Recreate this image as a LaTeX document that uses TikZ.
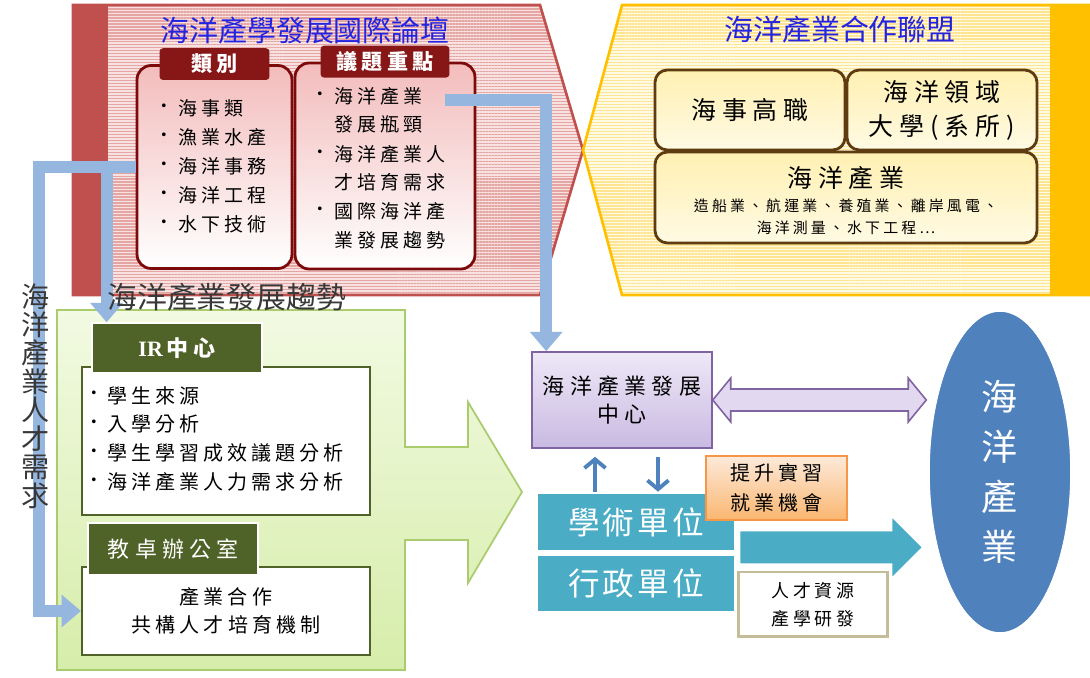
\documentclass[tikz,border=0pt]{standalone}
\usepackage{fontspec}
\setmainfont{Noto Sans CJK TC}
\newfontfamily\romanfont{Liberation Serif}
\usetikzlibrary{positioning,calc,arrows.meta,patterns.meta,shapes.geometric}
\newcommand{\fsz}[2]{\fontsize{#1}{#2}\selectfont}

\definecolor{forumred}{RGB}{192,80,77}
\definecolor{forumpink}{RGB}{247,226,225}
\definecolor{forumstripe}{RGB}{228,165,163}
\definecolor{leaguegold}{RGB}{255,192,0}
\definecolor{leaguecream}{RGB}{255,250,228}
\definecolor{leaguestripe}{RGB}{255,228,145}
\definecolor{titleblue}{RGB}{35,35,225}
\definecolor{boxred}{RGB}{125,10,10}
\definecolor{tabred}{RGB}{135,22,22}
\definecolor{boxpink}{RGB}{243,188,188}
\definecolor{capbrown}{RGB}{95,60,15}
\definecolor{capfill}{RGB}{255,240,178}
\definecolor{capfilllight}{RGB}{255,250,228}
\definecolor{trendgreen}{RGB}{170,204,110}
\definecolor{trendlight}{RGB}{242,250,226}
\definecolor{trenddark}{RGB}{214,237,170}
\definecolor{olivetab}{RGB}{79,98,40}
\definecolor{flowblue}{RGB}{149,182,222}
\definecolor{centrelight}{RGB}{238,232,247}
\definecolor{centredark}{RGB}{201,186,226}
\definecolor{centreline}{RGB}{128,100,162}
\definecolor{centrearrow}{RGB}{226,216,240}
\definecolor{internlight}{RGB}{253,234,218}
\definecolor{interndark}{RGB}{250,182,112}
\definecolor{internline}{RGB}{247,150,70}
\definecolor{unitteal}{RGB}{75,172,198}
\definecolor{resline}{RGB}{196,189,151}
\definecolor{seablue}{RGB}{79,129,189}

\begin{document}
\begin{tikzpicture}[x=0.02cm,y=-0.02cm]
      \useasboundingbox (0,0) rectangle (1090,678);
      \tikzstyle{headline} = [text=titleblue, inner sep=0, font=\fsz{16.5}{18}]
      \tikzstyle{redbox} = [draw=boxred, line width=1.6pt, rounded corners=8pt, top color=boxpink, bottom color=white]
      \tikzstyle{redtab} = [fill=tabred, text=white, rounded corners=2pt, minimum height=0.56cm, font=\fsz{12}{14}\bfseries\addfontfeature{LetterSpace=20}]
      \tikzstyle{listitem} = [anchor=west, inner sep=0, font=\fsz{10.8}{13}\addfontfeature{LetterSpace=21}]
      \tikzstyle{irlist} = [anchor=west, inner sep=0, font=\fsz{11.4}{13}\addfontfeature{LetterSpace=20}]
      \tikzstyle{bulletdot} = [inner sep=0, font=\fsz{10}{12}]
      \tikzstyle{capbox} = [draw=capbrown, line width=1.6pt, rounded corners=7pt, top color=capfill, bottom color=capfilllight, align=center, font=\fsz{14.2}{19.4}\addfontfeature{LetterSpace=24}]
      \tikzstyle{capname} = [inner sep=0, font=\fsz{14.2}{19.4}\addfontfeature{LetterSpace=24}]
      \tikzstyle{capsub} = [inner sep=0, align=center, font=\fsz{8.5}{12.5}\addfontfeature{LetterSpace=21}]
      \tikzstyle{trendtext} = [text=black!78, inner sep=0, font=\fsz{17}{19}]
      \tikzstyle{vtext} = [align=center, inner sep=0, text=black!78, font=\fsz{16}{16.2}]
      \tikzstyle{trendarrow} = [draw=trendgreen, line width=1pt, top color=trendlight, bottom color=trenddark]
      \tikzstyle{oltab} = [fill=olivetab, draw=white, line width=0.8pt, text=white, font=\fsz{12.5}{14}\addfontfeature{LetterSpace=23}]
      \tikzstyle{irbox} = [fill=white, draw=olivetab, line width=1.3pt, align=center, font=\fsz{11.4}{16}\addfontfeature{LetterSpace=20}]
      \tikzstyle{flowline} = [draw=flowblue, line width=6.8pt, -{Triangle[length=11pt,width=18pt]}]
      \tikzstyle{centrebox} = [draw=centreline, line width=0.9pt, top color=centrelight, bottom color=centredark, align=center, font=\fsz{12.5}{16}\addfontfeature{LetterSpace=24}]
      \tikzstyle{linkarrow} = [draw=centreline, line width=0.9pt, fill=centrearrow]
      \tikzstyle{stepline} = [draw=seablue, line width=2.2pt, -{Straight Barb[length=5pt,width=12pt]}]
      \tikzstyle{internbox} = [draw=internline, line width=0.8pt, top color=internlight, bottom color=interndark, align=center, font=\fsz{11.4}{17}\addfontfeature{LetterSpace=20}]
      \tikzstyle{unitbox} = [fill=unitteal, draw=white, line width=1.5pt, text=white, font=\fsz{18}{20}\addfontfeature{LetterSpace=10}]
      \tikzstyle{supplyarrow} = [draw=white, line width=1.2pt, fill=unitteal]
      \tikzstyle{resbox} = [draw=resline, line width=1.7pt, fill=white, align=center, font=\fsz{10.2}{16}\addfontfeature{LetterSpace=20}]
      \tikzstyle{seanode} = [ellipse, fill=seablue, draw=white, line width=2pt, text=white, align=center, font=\fsz{20.5}{28.5}]

      % forum (red chevron)
      \fill[forumpink] (73,5) -- (540,5) -- (583,150) -- (540,295) -- (73,295) -- cycle;
      \fill[pattern={Lines[distance=1.7pt,line width=0.8pt]}, pattern color=forumstripe]
      (108,5) -- (540,5) -- (583,150) -- (540,295) -- (108,295) -- cycle;
      \fill[forumred] (73,5) rectangle (108,295);
      \draw[forumred, line width=1.5pt] (73,5) -- (540,5) -- (583,150) -- (540,295) -- (73,295) -- cycle;

      % league (yellow chevron)
      \fill[leaguecream] (622,5) -- (1090,5) -- (1090,295) -- (622,295) -- (583,150) -- cycle;
      \fill[pattern={Lines[distance=1.7pt,line width=0.8pt]}, pattern color=leaguestripe]
      (622,5) -- (1050,5) -- (1050,295) -- (622,295) -- (583,150) -- cycle;
      \fill[leaguegold] (1050,5) rectangle (1090,295);
      \draw[leaguegold, line width=1.5pt] (1090,5) -- (622,5) -- (583,150) -- (622,295) -- (1090,295);

      \node[headline] (forumtitle) at (305,30) {海洋產學發展國際論壇};
      \node[headline] (leaguetitle) at (840,30) {海洋產業合作聯盟};

      \node[redbox, minimum width=3.1cm, minimum height=4.06cm] (cat) at (214.5,167) {};
      \node[redbox, minimum width=3.6cm, minimum height=4.12cm] (issue) at (385,166) {};
      \node[redtab, minimum width=2.2cm] (cattab) at (cat.north) {類別};
      \node[redtab, minimum width=2.58cm] (issuetab) at (issue.north) {議題重點};

      \foreach \t [count=\i] in {海事類,漁業水產,海洋事務,海洋工程,水下技術}{
        \node[bulletdot] (cb\i) at (164,{79+29*\i}) {•};
        \node[listitem] (c\i) at (178,{79+29*\i}) {\t};
      }
      \foreach \y/\t [count=\i] in {96/海洋產業,124/發展瓶頸,154/海洋產業人,182/才培育需求,211/國際海洋產,240/業發展趨勢}
        \node[listitem] (i\i) at (334,\y) {\t};
      \foreach \y [count=\i] in {96,154,211}
        \node[bulletdot] (ib\i) at (320,\y) {•};

      \node[capbox, minimum width=3.8cm, minimum height=1.6cm] (mhs) at (750,110) {海事高職};
      \node[capbox, minimum width=3.8cm, minimum height=1.6cm] (uni) at (942,110) {海洋領域\\大學(系所)};
      \node[capbox, minimum width=7.64cm, minimum height=1.82cm] (ind) at (846,197.5) {};
      \node[capname] (indname) at (846,178) {海洋產業};
      \node[capsub] (indlist) at (846,217) {造船業、航運業、養殖業、離岸風電、\\海洋測量、水下工程⋯};

      % trend (green arrow)
      \draw[trendarrow] (57,310) -- (405,310) -- (405,447) -- (468,447) -- (468,402) -- (522,492)
      -- (468,583) -- (468,540) -- (405,540) -- (405,670) -- (57,670) -- cycle;

      \node[irbox, minimum width=5.76cm, minimum height=2.96cm] (irbox) at (226,441) {};
      \node[oltab, minimum width=3.4cm, minimum height=1cm] (irtab) at (177,348) {{\romanfont\bfseries IR}\,\bfseries 中心};
      \foreach \t [count=\i] in {學生來源,入學分析,學生學習成效議題分析,海洋產業人力需求分析}{
        \node[bulletdot] (rb\i) at (94,{367+28.7*\i}) {•};
        \node[irlist] (r\i) at (107,{367+28.7*\i}) {\t};
      }
      \node[irbox, minimum width=5.76cm, minimum height=1.76cm] (coop) at (226,611) {產業合作\\共構人才培育機制};
      \node[oltab, minimum width=3.4cm, minimum height=1.04cm] (ctltab) at (173,549) {教卓辦公室};

      % centre and units
      \node[centrebox, minimum width=3.6cm, minimum height=1.92cm] (pc) at (622,400) {海洋產業發展\\中心};
      \node[seanode, minimum width=2.88cm, minimum height=6.48cm] (sea) at (1000,472) {海\\洋\\產\\業};
      \node[unitbox, minimum width=3.96cm, minimum height=1.16cm] (acad) at (636,522) {學術單位};
      \node[unitbox, minimum width=3.96cm, minimum height=1.16cm] (admin) at (636,583.5) {行政單位};
      \node[internbox, minimum width=2.82cm, minimum height=1.28cm] (intern) at (776.5,488) {提升實習\\就業機會};
      \node[resbox, minimum width=3.0cm, minimum height=1.3cm] (res) at (813,604.5) {人才資源\\產學研發};

      \coordinate (dl) at (pc.east);
      \coordinate (dr) at (sea.west |- pc.east);
      \draw[linkarrow] (dl) -- ($(dl)+(18,-22)$) -- ($(dl)+(18,-11)$) -- ($(dr)+(-18,-11)$) -- ($(dr)+(-18,-22)$)
      -- (dr) -- ($(dr)+(-18,22)$) -- ($(dr)+(-18,11)$) -- ($(dl)+(18,11)$) -- ($(dl)+(18,22)$) -- cycle;

      \coordinate (tl) at ($(acad.south east)+(3,-5)$);
      \coordinate (tr) at ($(sea.west |- tl)+(-3,0)$);
      \draw[supplyarrow] ($(tl)+(0,-17)$) -- ($(tr)+(-32,-17)$) -- ($(tr)+(-32,-32)$) -- (tr)
      -- ($(tr)+(-32,32)$) -- ($(tr)+(-32,17)$) -- ($(tl)+(0,17)$) -- cycle;

      \coordinate (up) at ($(pc.south)+(-27,8)$);
      \coordinate (down) at ($(pc.south)+(36,8)$);
      \draw[stepline] (up |- acad.north) -- (up);
      \draw[stepline] (down) -- (down |- acad.north);

      % flows
      \coordinate (fork) at ($(cat.west)+(-29,0)$);
      \draw[flowline] (cat.west) -- ++(-97,0) |- (coop.west);
      \draw[flowline] (fork) -- (fork |- irtab.north);
      \coordinate (issueout) at ($(i1.east)+(22,4)$);
      \coordinate (pcin) at ($(pc.north west)+(15,0)$);
      \draw[flowline] (issueout) -| (pcin);

      \node[trendtext, anchor=west] (trend) at (107,297) {海洋產業發展趨勢};
      \node[vtext] (need) at (36,396) {海\\洋\\產\\業\\人\\才\\需\\求};
    \end{tikzpicture}
\end{document}
